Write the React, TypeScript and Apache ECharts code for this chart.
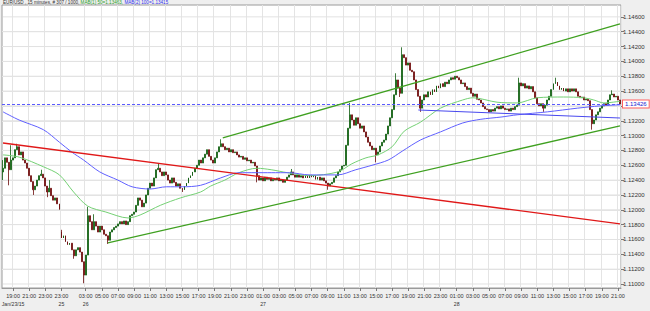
import React, { useEffect, useRef } from "react";
import * as echarts from "echarts";

// ---- DATA (prices in pips above 1.1000, e.g. 342.6 = 1.13426) ----
const closePips: number[] = [
  256, 270, 264, 254, 267, 270, 281, 285, 274, 278,
  267, 263, 256, 246, 238, 227, 232, 240, 246, 248,
  243, 232, 224, 229, 219, 213, 216, 208, 201, 162,
  165, 157, 153, 155, 146, 138, 146, 149, 143, 130,
  112, 139, 192, 184, 173, 184, 178, 170, 178, 173,
  167, 165, 159, 170, 173, 176, 178, 181, 184, 181,
  185, 180, 184, 192, 194, 197, 206, 216, 213, 204,
  209, 220, 229, 236, 232, 243, 254, 256, 251, 246,
  251, 247, 240, 236, 243, 237, 232, 235, 229, 227,
  232, 236, 243, 246, 251, 256, 260, 267, 263, 270,
  275, 281, 272, 267, 263, 270, 278, 285, 289, 285,
  281, 283, 278, 281, 277, 278, 274, 271, 272, 268,
  270, 266, 267, 263, 264, 259, 246, 240, 243, 239,
  244, 241, 243, 239, 241, 240, 243, 239, 240, 237,
  240, 244, 247, 251, 247, 244, 247, 244, 246, 243,
  246, 243, 247, 244, 246, 241, 244, 240, 243, 239,
  236, 232, 235, 237, 243, 246, 251, 254, 259, 260,
  287, 310, 328, 321, 314, 324, 316, 310, 313, 305,
  298, 291, 286, 281, 283, 274, 278, 286, 291, 294,
  302, 313, 324, 335, 355, 375, 364, 357, 409, 405,
  395, 398, 388, 386, 375, 362, 353, 337, 348, 355,
  352, 359, 355, 362, 359, 367, 364, 370, 366, 372,
  370, 375, 378, 376, 380, 378, 375, 370, 371, 366,
  362, 364, 357, 353, 356, 349, 348, 344, 339, 336,
  335, 332, 335, 333, 337, 339, 336, 340, 337, 335,
  336, 333, 337, 335, 339, 341, 371, 367, 370, 364,
  367, 363, 366, 359, 351, 343, 340, 343, 337, 341,
  348, 353, 362, 370, 372, 367, 362, 364, 360, 363,
  359, 363, 360, 363, 359, 353, 351, 352, 348, 349,
  347, 335, 316, 321, 328, 332, 337, 340, 343, 341,
  348, 355, 356, 352, 353, 348, 342.6,
];
// bars whose open is not the previous close (session starts)
const gapBars = [0, 29];
const gapOpenPips = [251, 170];
// visible wick extremes
const wickHighBars = [0, 4, 7, 19, 23, 29, 42, 45, 77, 108, 143, 172, 195, 198, 256, 274, 302];
const wickHighPips = [267, 287, 289, 254, 240, 173, 204, 194, 263, 295, 255, 344, 384, 419, 378, 378, 361];
const wickLowBars = [0, 3, 15, 22, 28, 35, 40, 52, 89, 126, 161, 185, 197, 207, 268, 292];
const wickLowPips = [240, 233, 220, 217, 200, 134, 101, 154, 224, 237, 227, 264, 352, 332, 332, 308];

// moving averages
const ma50Bars = [0, 8, 20, 28, 35, 42, 51, 62, 68, 78, 88, 98, 103, 110, 117, 126, 133, 141, 152, 166, 173, 180, 186, 193, 199, 207, 217, 228, 233, 245, 255, 265, 278, 288, 293, 298, 306];
const ma50Pips = [274, 271, 258, 247, 224, 205, 197, 189, 193, 206, 216, 224, 232, 240, 250, 256, 254, 250, 246, 251, 262, 270, 274, 285, 306, 318, 337, 348, 351, 345, 344, 351, 352, 351, 348, 344, 346.3];
const ma100Bars = [0, 8, 20, 28, 34, 40, 48, 57, 64, 73, 81, 89, 98, 108, 117, 125, 133, 142, 152, 166, 175, 183, 191, 198, 207, 217, 228, 237, 247, 255, 270, 285, 296, 306];
const ma100Pips = [332, 321, 308, 291, 278, 267, 251, 240, 231, 228, 231, 231, 233, 243, 250, 250, 250, 250, 247, 247, 254, 260, 267, 279, 294, 305, 317, 322, 325, 328, 332, 337, 340, 341.5];

// drawn trendlines
const redLineBars = [0, 306];
const redLinePrices = [1.129, 1.1181];
const greenLowBars = [52, 306];
const greenLowPrices = [1.11553, 1.1313];
const greenUpBars = [109, 306];
const greenUpPrices = [1.12968, 1.14504];
const blueLineBars = [206, 306];
const blueLinePrices = [1.13345, 1.13237];

// axes
const yGridValues = [1.11, 1.112, 1.114, 1.116, 1.118, 1.12, 1.122, 1.124, 1.126, 1.128, 1.13, 1.132, 1.134, 1.136, 1.138, 1.14, 1.142, 1.144, 1.146];
// 1.13400 is covered by the last-price box in the reference
const yLabelValues = [1.11, 1.112, 1.114, 1.116, 1.118, 1.12, 1.122, 1.124, 1.126, 1.128, 1.13, 1.132, 1.136, 1.138, 1.14, 1.142, 1.144, 1.146];
const yStep = 0.002;
const yAxisMin = 1.108; // multiple of yStep
const yAxisMax = 1.148;
const visibleMin = 1.10946; // price at the bottom edge of the plot frame
const visibleMax = 1.1476; // price at the top edge of the plot frame
const tickBars = [5, 13, 21, 29, 41, 49, 57, 65, 73, 81, 89, 97, 105, 113, 121, 129, 137, 145, 153, 161, 169, 177, 185, 193, 201, 209, 217, 225, 233, 241, 249, 257, 265, 273, 281, 289, 297, 305];
const tickTimes = ["19:00", "21:00", "23:00", "23:00", "03:00", "05:00", "07:00", "09:00", "11:00", "13:00", "15:00", "17:00", "19:00", "21:00", "23:00", "01:00", "03:00", "05:00", "07:00", "09:00", "11:00", "13:00", "15:00", "17:00", "19:00", "21:00", "23:00", "01:00", "03:00", "05:00", "07:00", "09:00", "11:00", "13:00", "15:00", "17:00", "19:00", "21:00"];
const tickDates = ["Jan/23/15", "", "", "25", "26", "", "", "", "", "", "", "", "", "", "", "27", "", "", "", "", "", "", "", "", "", "", "", "28", "", "", "", "", "", "", "", "", "", ""];

const headerMain = "EUR/USD , 15 minutes, # 307 / 1000, ";
const headerMa1 = "MAB(1) 50=1.13463, ";
const headerMa2 = "MAB(2) 100=1.13415";

const BASE = 1.1;
const PIP = 0.0001;
const toPrice = (p: number) => +(BASE + p * PIP).toFixed(5);

const W = 650;
const H = 311;
const FRAME = { left: 2, right: 29, top: 5, bottom: 23 };

export default function App() {
  const ref = useRef<HTMLDivElement>(null);

  useEffect(() => {
    document.body.style.margin = "0";
    if (!ref.current) return;
    const chart = echarts.init(ref.current, undefined, { renderer: "svg" });

    const categories = closePips.map((_, i) => String(i));
    const candles = closePips.map((c, i) => {
      const g = gapBars.indexOf(i);
      const o = g >= 0 ? gapOpenPips[g] : closePips[i - 1];
      const hi = wickHighBars.indexOf(i);
      const lo = wickLowBars.indexOf(i);
      const h = Math.max(o, c, hi >= 0 ? wickHighPips[hi] : -1e9);
      const l = Math.min(o, c, lo >= 0 ? wickLowPips[lo] : 1e9);
      return [toPrice(o), toPrice(c), toPrice(l), toPrice(h)];
    });
    const lastIdx = closePips.length - 1;
    const lastPrice = toPrice(closePips[lastIdx]);
    const pairs = (bars: number[], vals: number[]) => bars.map((b, k) => [b, vals[k]]);
    const pipPairs = (bars: number[], vals: number[]) => bars.map((b, k) => [b, toPrice(vals[k])]);
    const tickSet = new Set(tickBars);
    const isTick = (idx: number) => tickSet.has(idx);
    const dateSet = new Set(tickBars.filter((_, k) => tickDates[k] !== ""));
    const isDate = (idx: number) => dateSet.has(idx);

    // the data grid is stretched so that its round-valued axis lines up with the frame
    const frameH = H - FRAME.top - FRAME.bottom;
    const pxPerUnit = frameH / (visibleMax - visibleMin);
    const dataTop = FRAME.top - (yAxisMax - visibleMax) * pxPerUnit;
    const dataBottom = FRAME.bottom - (visibleMin - yAxisMin) * pxPerUnit;

    const font = "Liberation Sans, Arial, sans-serif";

    // horizontal grid rules, one short line series per price level
    const gridRuleSeries = yGridValues.map((v) => ({
      name: "rule " + v,
      type: "line",
      data: [[0, v], [lastIdx, v]],
      showSymbol: false,
      symbol: "none",
      silent: true,
      z: 2,
      lineStyle: { color: "#e2e2e2", width: 1 },
    }));

    chart.setOption({
      animation: false,
      backgroundColor: "#efefef",
      textStyle: { fontFamily: font },
      grid: [
        {
          left: FRAME.left,
          right: FRAME.right,
          top: dataTop,
          bottom: dataBottom,
          show: false,
          containLabel: false,
          outerBoundsMode: "none",
        },
        {
          left: FRAME.left,
          right: FRAME.right,
          top: FRAME.top,
          bottom: FRAME.bottom,
          show: true,
          backgroundColor: "#ffffff",
          borderColor: "#9a9a9a",
          borderWidth: 1,
          containLabel: false,
          outerBoundsMode: "none",
        },
      ],
      graphic: [
        {
          type: "text",
          left: 3,
          top: 0,
          silent: true,
          style: {
            text: `{a|${headerMain}}{b|${headerMa1}}{c|${headerMa2}}`,
            rich: {
              a: { fill: "#333333", fontSize: 4.6, fontFamily: font },
              b: { fill: "#2e9e2e", fontSize: 4.6, fontFamily: font },
              c: { fill: "#3030ee", fontSize: 4.6, fontFamily: font },
            },
          },
        },
      ],
      xAxis: [
        {
          gridIndex: 0,
          type: "category",
          data: categories,
          boundaryGap: true,
          show: false,
        },
        {
          gridIndex: 1,
          type: "category",
          data: categories,
          boundaryGap: true,
          axisLine: { show: true, lineStyle: { color: "#9a9a9a" } },
          axisTick: { show: true, interval: isTick, alignWithLabel: true, length: 3, lineStyle: { color: "#777" } },
          splitLine: { show: true, interval: isTick, lineStyle: { color: "#e4e4e4", width: 1 } },
          axisLabel: {
            interval: isTick,
            margin: 5,
            fontSize: 5.5,
            color: "#333",
            fontFamily: font,
            formatter: (_v: string, idx: number) => {
              const k = tickBars.indexOf(idx);
              return k < 0 ? "" : tickTimes[k];
            },
          },
        },
        {
          gridIndex: 1,
          type: "category",
          data: categories,
          boundaryGap: true,
          position: "bottom",
          axisLine: { show: false },
          axisTick: { show: false },
          splitLine: { show: false },
          axisLabel: {
            interval: isDate,
            margin: 13,
            fontSize: 5.2,
            color: "#333",
            fontFamily: font,
            formatter: (_v: string, idx: number) => {
              const k = tickBars.indexOf(idx);
              return k < 0 ? "" : tickDates[k];
            },
          },
        },
      ],
      yAxis: [
        {
          gridIndex: 0,
          type: "value",
          position: "right",
          min: yAxisMin,
          max: yAxisMax,
          interval: yStep,
          z: 1,
          axisLine: { show: false },
          splitLine: {
            show: true,
            showMinLine: false,
            showMaxLine: false,
            lineStyle: { color: "#e4e4e4", width: 1 },
          },
          axisTick: { show: true, length: 3, customValues: yGridValues, lineStyle: { color: "#777" } },
          axisLabel: {
            customValues: yLabelValues,
            fontSize: 6,
            margin: 2,
            color: "#333",
            fontFamily: font,
            formatter: (v: number) => v.toFixed(5),
          },
        },
        {
          gridIndex: 1,
          type: "value",
          show: false,
          min: 0,
          max: 1,
          splitLine: { show: false },
        },
      ],
      series: [
        ...gridRuleSeries,
        {
          name: "price",
          type: "candlestick",
          data: candles,
          z: 3,
          barWidth: 1.4,
          itemStyle: {
            color: "#167f16",
            color0: "#9a1010",
            borderColor: "#0e5a0e",
            borderColor0: "#6a0a0a",
            borderWidth: 0.8,
          },
        },
        {
          name: "MA50",
          type: "line",
          data: pipPairs(ma50Bars, ma50Pips),
          smooth: 0.3,
          showSymbol: false,
          z: 4,
          lineStyle: { color: "#74d074", width: 1 },
        },
        {
          name: "MA100",
          type: "line",
          data: pipPairs(ma100Bars, ma100Pips),
          smooth: 0.3,
          showSymbol: false,
          z: 4,
          lineStyle: { color: "#6060ff", width: 1 },
        },
        {
          name: "red trend",
          type: "line",
          data: pairs(redLineBars, redLinePrices),
          showSymbol: false,
          z: 5,
          lineStyle: { color: "#e01818", width: 1.3 },
        },
        {
          name: "green low",
          type: "line",
          data: pairs(greenLowBars, greenLowPrices),
          showSymbol: false,
          z: 5,
          lineStyle: { color: "#3fa020", width: 1.3 },
        },
        {
          name: "green up",
          type: "line",
          data: pairs(greenUpBars, greenUpPrices),
          showSymbol: false,
          z: 5,
          lineStyle: { color: "#3fa020", width: 1.3 },
        },
        {
          name: "blue trend",
          type: "line",
          data: pairs(blueLineBars, blueLinePrices),
          showSymbol: false,
          z: 5,
          lineStyle: { color: "#4848ee", width: 1 },
        },
        {
          name: "last price",
          type: "line",
          data: [[lastIdx, lastPrice]],
          showSymbol: false,
          symbol: "none",
          z: 6,
          silent: true,
          lineStyle: { opacity: 0 },
          markLine: {
            silent: true,
            precision: 5,
            symbol: ["none", "none"],
            data: [{ yAxis: lastPrice }],
            lineStyle: { color: "#5a5aff", type: [3, 2], width: 1 },
            label: {
              show: true,
              position: "end",
              distance: 2,
              formatter: lastPrice.toFixed(5),
              color: "#2020d0",
              backgroundColor: "#ffffff",
              borderColor: "#ff6060",
              borderWidth: 1,
              padding: [1, 2, 0, 2],
              fontSize: 6,
              fontFamily: font,
            },
          },
        },
      ],
    });

    return () => chart.dispose();
  }, []);

  return (
    <div
      ref={ref}
      style={{ position: "fixed", left: 0, top: 0, width: W, height: H }}
    />
  );
}
